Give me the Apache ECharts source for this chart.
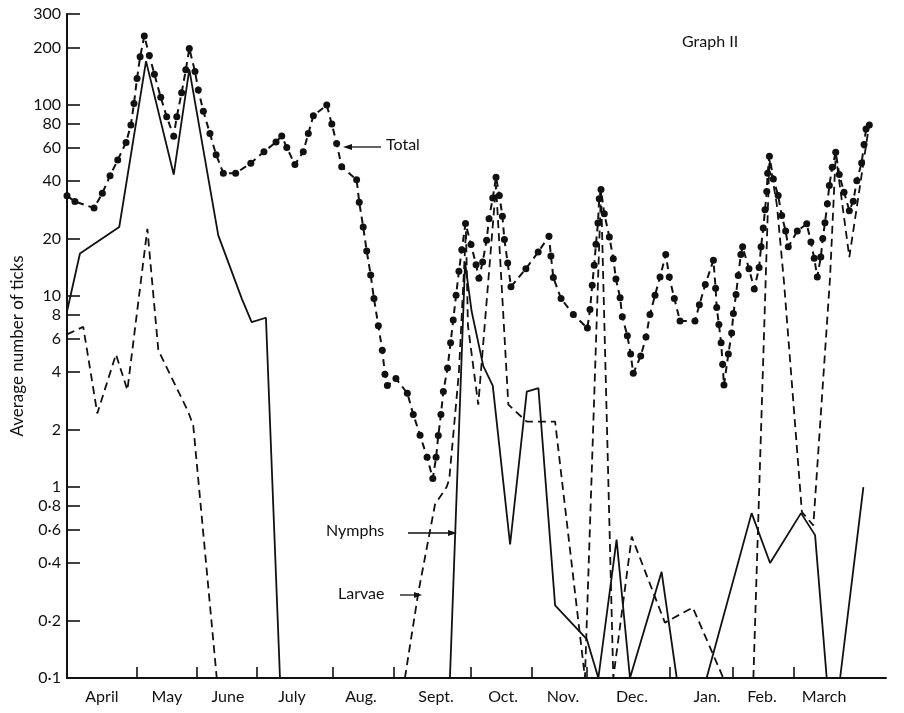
<!DOCTYPE html>
<html>
<head>
<meta charset="utf-8">
<script src="https://cdn.jsdelivr.net/npm/echarts@6/dist/echarts.min.js"></script>
<style>
  html, body { margin: 0; padding: 0; background: #fff; }
  #main { width: 904px; height: 713px; }
</style>
</head>
<body>
<div id="main"></div>
<script>
// x = days from 1 April, y = average number of ticks (log scale)
const monthNames = ["April", "May", "June", "July", "Aug.", "Sept.", "Oct.", "Nov.", "Dec.", "Jan.", "Feb.", "March"];
const monthLabelDays = [15.9, 45.5, 73.3, 102.5, 133.9, 168.1, 198.6, 225.9, 257.3, 291.5, 316.5, 344.8];
const monthTickDays = [31.9, 59.2, 86.5, 121.1, 148.9, 184.0, 211.8, 236.8, 274.6, 303.3, 331.1];
const yTickValues = [0.1, 0.2, 0.4, 0.6, 0.8, 1, 2, 4, 6, 8, 10, 20, 40, 60, 80, 100, 200, 300];

const totalDays = [
  0, 3.6, 12.3, 16.1, 19.6, 23.1, 26.9, 29.1, 30.5, 31.9, 33.3, 35.2, 37.5, 39.8, 42.7, 45.4,
  48.6, 50.0, 52.2, 54.1, 55.7, 58.3, 59.8, 62.1, 65.1, 67.9, 71.2, 76.8, 83.7, 89.7, 95.2,
  97.8, 100.1, 103.8, 107.6, 109.9, 112.2, 118.3, 120.6, 122.8, 125.1, 131.9, 133.1, 134.9,
  136.5, 138.3, 139.8, 141.8, 143.6, 144.8, 145.9, 149.8, 155.0, 157.7, 160.8, 164.0, 166.6,
  168.1, 169.1, 170.3, 171.4, 173.3, 174.7, 175.9, 177.2, 178.5, 179.8, 181.5, 184.0, 186.3,
  187.6, 189.3, 191.1, 192.2, 193.9, 195.4, 196.9, 198.3, 199.2, 200.7, 202.2, 209.0, 214.6,
  219.5, 220.4, 221.5, 225.0, 230.6, 237.0, 238.2, 239.2, 240.1, 240.9, 241.8, 242.4, 243.2,
  244.7, 247.0, 248.8, 250.0, 251.9, 252.9, 255.2, 256.7, 257.9, 261.3, 263.7, 265.5, 267.8,
  270.1, 272.7, 274.3, 276.6, 279.2, 286.0, 288.0, 290.7, 294.4, 295.4, 295.9, 296.9, 297.9,
  298.6, 299.2, 301.2, 302.7, 303.5, 304.7, 305.7, 306.9, 307.7, 310.6, 313.0, 315.2, 316.1,
  317.1, 317.9, 318.7, 319.1, 319.9, 321.7, 323.9, 325.5, 327.3, 328.5, 332.6, 336.9, 338.8,
  340.3, 341.7, 343.3, 344.2, 345.2, 346.3, 347.2, 348.5, 350.1, 351.7, 353.9, 356.3, 358.1,
  359.7, 361.9, 363.0, 363.9, 365.4
];
const totalValues = [
  33.5, 31.3, 28.9, 34.6, 42.7, 51.6, 63.8, 78.7, 102, 138, 179, 230, 182, 145, 110, 87,
  68.7, 87, 116, 153, 198, 150, 120, 93, 71, 55, 44, 44, 49.6, 57, 64,
  69, 60, 48.8, 57, 71, 88, 100, 79.6, 63, 47.6, 40.6, 31, 23,
  17.2, 12.9, 9.7, 7.0, 5.2, 3.9, 3.4, 3.7, 3.1, 2.4, 1.87, 1.43, 1.11,
  1.43, 1.86, 2.4, 3.16, 4.2, 5.7, 7.5, 10.1, 13.5, 17.5, 24, 18.6, 14.6,
  12.4, 15.1, 19.6, 25.4, 32.6, 41.9, 33.6, 26.2, 19.8, 14.9, 11.2, 13.9, 17,
  20.6, 16.2, 12.5, 9.7, 8.0, 6.8, 8.5, 11.4, 14.5, 18.7, 24.1, 32.3, 36.1,
  27, 20.4, 15.7, 12.3, 9.8, 7.8, 6.2, 4.97, 3.94, 4.85, 6.1, 8.0, 10.1,
  12.6, 16.5, 12.6, 9.7, 7.4, 7.4, 9.0, 11.5, 15.4, 11, 8.7, 7.1, 5.7,
  4.4, 3.42, 4.97, 6.4, 8.1, 10.2, 12.8, 16.5, 18.1, 13.9, 10.9, 14.1, 18.1,
  22.7, 28.3, 35.3, 44, 54, 41, 33.6, 26.4, 21.9, 18.1, 21.9, 23.9, 19.2,
  15.8, 12.6, 16, 20, 24.2, 30.4, 37.9, 47.3, 56.6, 43.3, 35, 28, 31.4,
  40.2, 49.8, 62.1, 75, 78.6
];

// null = no line drawn (count lies on the axis)
const nymphDays = [
  0, 5.9, 23.8, 36.0, 48.6, 55.7, 68.9, 79.6, 84.1, 90.6, 97.0, 130,
  174.4, 181.3, 184.3, 189.6, 193.9, 201.8, 209.4, 214.7, 222.3, 236.7, 242.0, 250.3, 256.4,
  270.8, 277.7, 285, 291.3, 311.8, 320.2, 334.3, 340.7, 346.0, 349, 352.1, 362.7
];
const nymphValues = [
  8.3, 16.7, 23, 170, 43.3, 154, 20.8, 9.7, 7.3, 7.7, 0.1, null,
  0.1, 15, 8.3, 4.3, 3.4, 0.5, 3.16, 3.3, 0.24, 0.16, 0.1, 0.53, 0.1,
  0.36, 0.1, null, 0.1, 0.73, 0.40, 0.73, 0.56, 0.1, null, 0.1, 1.0
];

const larvaeDays = [
  0, 7.4, 13.8, 22.3, 27.5, 36.6, 41.6, 55.2, 57.5, 68.2, 110,
  153.9, 160.0, 167.6, 172.9, 174.1, 178.5, 181.7, 182.6, 187.3, 195.4, 201.0, 209.4, 222.3,
  235.9, 243.2, 248.8, 257.2, 272.3, 285.0, 298.9, 305,
  312.6, 319.9, 323.3, 326.5, 334.7, 339.9, 347.5, 350.1, 356.3, 365.4
];
const larvaeValues = [
  6.3, 6.9, 2.43, 4.95, 3.22, 22.5, 5.2, 2.48, 2.1, 0.1, null,
  0.1, 0.28, 0.81, 1.0, 1.1, 4.0, 22, 7, 2.7, 38, 2.7, 2.2, 2.2,
  0.1, 36, 0.1, 0.55, 0.195, 0.234, 0.1, null,
  0.1, 52, 30, 12, 0.74, 0.63, 12.4, 55, 16, 80
];

// log10 transform so the value axis behaves as a log scale with custom ticks
function pairs(days, values) {
  return days.map((d, i) => [d, values[i] == null ? null : Math.log10(values[i])]);
}
function tickText(v) {
  const n = +Math.pow(10, v).toPrecision(2);
  return String(n).replace('.', '·');
}

const ink = '#111';
const font = 'Lato, "DejaVu Sans", sans-serif';

let chart = echarts.init(document.getElementById('main'));
chart.setOption({
  animation: false,
  backgroundColor: '#fff',
  grid: { left: 67, right: 18, top: 14, bottom: 35, containLabel: false, outerBoundsMode: 'none' },
  xAxis: {
    type: 'value',
    min: 0,
    max: 373,
    axisLine: { onZero: false, lineStyle: { color: ink, width: 2 } },
    axisTick: { inside: true, length: 11, customValues: monthTickDays, lineStyle: { color: ink, width: 1.6 } },
    axisLabel: {
      customValues: monthLabelDays,
      margin: 11,
      color: ink,
      fontFamily: font,
      fontSize: 16,
      formatter: (v) => monthNames[monthLabelDays.indexOf(v)] || ''
    },
    splitLine: { show: false }
  },
  yAxis: {
    type: 'value',
    min: Math.log10(0.1),
    max: Math.log10(300),
    name: 'Average number of ticks',
    nameLocation: 'middle',
    nameRotate: 90,
    nameGap: 41,
    nameMoveOverlap: false,
    nameTextStyle: { color: ink, fontFamily: font, fontSize: 17 },
    axisLine: { show: true, onZero: false, lineStyle: { color: ink, width: 2 } },
    axisTick: { show: true, inside: true, length: 13, customValues: yTickValues.map(Math.log10), lineStyle: { color: ink, width: 1.6 } },
    axisLabel: {
      customValues: yTickValues.map(Math.log10),
      margin: 6,
      color: ink,
      fontFamily: font,
      fontSize: 16,
      formatter: tickText
    },
    splitLine: { show: false }
  },
  graphic: [
    { type: 'text', left: 682, top: 34, style: { text: 'Graph II', fill: ink, font: '16px ' + font } },
    { type: 'text', left: 386, top: 137, style: { text: 'Total', fill: ink, font: '16px ' + font } },
    { type: 'line', shape: { x1: 350, y1: 147, x2: 381, y2: 147 }, style: { stroke: ink, lineWidth: 1.3 } },
    { type: 'polygon', shape: { points: [[343, 147], [352, 144], [352, 150]] }, style: { fill: ink } },
    { type: 'text', left: 326, top: 523, style: { text: 'Nymphs', fill: ink, font: '16px ' + font } },
    { type: 'line', shape: { x1: 408, y1: 533, x2: 450, y2: 533 }, style: { stroke: ink, lineWidth: 1.3 } },
    { type: 'polygon', shape: { points: [[457, 533], [448, 530], [448, 536]] }, style: { fill: ink } },
    { type: 'text', left: 338, top: 586, style: { text: 'Larvae', fill: ink, font: '16px ' + font } },
    { type: 'line', shape: { x1: 400, y1: 595, x2: 415, y2: 595 }, style: { stroke: ink, lineWidth: 1.3 } },
    { type: 'polygon', shape: { points: [[422, 595], [414, 592], [414, 598]] }, style: { fill: ink } }
  ],
  series: [
    {
      name: 'Total',
      type: 'line',
      data: pairs(totalDays, totalValues),
      showAllSymbol: true,
      symbol: 'circle',
      symbolSize: 7,
      itemStyle: { color: ink },
      lineStyle: { color: ink, width: 2, type: [7, 5] },
      connectNulls: false,
      z: 3
    },
    {
      name: 'Nymphs',
      type: 'line',
      data: pairs(nymphDays, nymphValues),
      showSymbol: false,
      lineStyle: { color: ink, width: 1.8 },
      connectNulls: false
    },
    {
      name: 'Larvae',
      type: 'line',
      data: pairs(larvaeDays, larvaeValues),
      showSymbol: false,
      lineStyle: { color: ink, width: 1.8, type: [8, 5] },
      connectNulls: false
    }
  ]
});
</script>
</body>
</html>
